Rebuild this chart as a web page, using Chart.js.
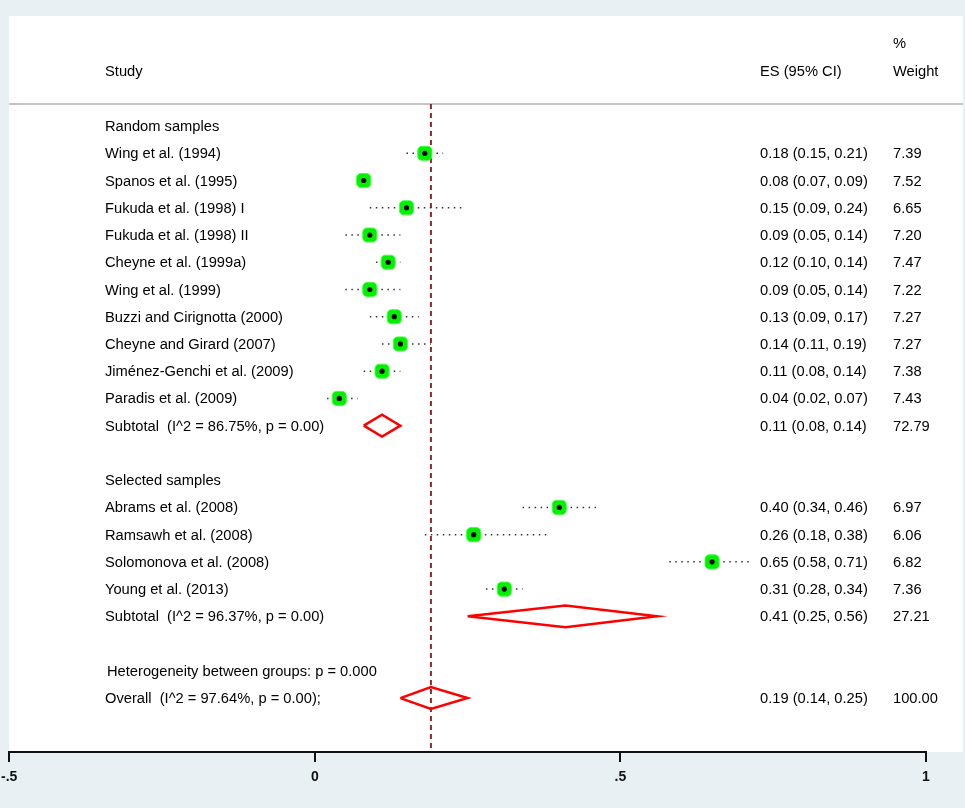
<!DOCTYPE html>
<html>
<head>
<meta charset="utf-8">
<script src="https://cdn.jsdelivr.net/npm/chart.js@4.4.1/dist/chart.umd.min.js"></script>
<style>
  html, body { margin: 0; padding: 0; background: #e9f0f3; }
  #wrap { width: 965px; height: 808px; }
</style>
</head>
<body>
<div id="wrap"><canvas id="forest" width="965" height="808"></canvas></div>
<script>
// study level data
const studies = ["Wing et al. (1994)", "Spanos et al. (1995)", "Fukuda et al. (1998) I",
  "Fukuda et al. (1998) II", "Cheyne et al. (1999a)", "Wing et al. (1999)",
  "Buzzi and Cirignotta (2000)", "Cheyne and Girard (2007)", "Jiménez-Genchi et al. (2009)",
  "Paradis et al. (2009)", "Abrams et al. (2008)", "Ramsawh et al. (2008)",
  "Solomonova et al. (2008)", "Young et al. (2013)"];
const studyRows = [1, 2, 3, 4, 5, 6, 7, 8, 9, 10, 14, 15, 16, 17];
const es = [0.18, 0.08, 0.15, 0.09, 0.12, 0.09, 0.13, 0.14, 0.11, 0.04, 0.40, 0.26, 0.65, 0.31];
const lo = [0.15, 0.07, 0.09, 0.05, 0.10, 0.05, 0.09, 0.11, 0.08, 0.02, 0.34, 0.18, 0.58, 0.28];
const hi = [0.21, 0.09, 0.24, 0.14, 0.14, 0.14, 0.17, 0.19, 0.14, 0.07, 0.46, 0.38, 0.71, 0.34];
const weights = [7.39, 7.52, 6.65, 7.20, 7.47, 7.22, 7.27, 7.27, 7.38, 7.43, 6.97, 6.06, 6.82, 7.36];

// groups
const groupNames = ["Random samples", "Selected samples"];
const groupRows = [0, 13];

// subtotals + overall
const poolLabels = ["Subtotal  (I^2 = 86.75%, p = 0.00)", "Subtotal  (I^2 = 96.37%, p = 0.00)",
  "Overall  (I^2 = 97.64%, p = 0.00);"];
const poolRows = [11, 18, 21];
const poolEs = [0.11, 0.41, 0.19];
const poolLo = [0.08, 0.25, 0.14];
const poolHi = [0.14, 0.56, 0.25];
const poolWeights = [72.79, 27.21, 100.00];

const hetText = "Heterogeneity between groups: p = 0.000";
const hetRow = 20;

const xTicks = [-0.5, 0, 0.5, 1];

const FONT = '14.7px "Liberation Sans", Arial, sans-serif';
const fmt = v => v.toFixed(2);
const tickFmt = v => v === 0 ? '0' : (v < 0 ? '-' : '') + String(Math.abs(v)).replace(/^0/, '');

// build datasets
const datasets = [];

// line through overall estimate
datasets.push({
  data: [{x: poolEs[2], y: -0.81}, {x: poolEs[2], y: 23}],
  showLine: true, borderColor: '#8b2c2c', borderWidth: 2, borderDash: [5, 4],
  pointRadius: 0, order: 10
});

studies.forEach((s, i) => {
  datasets.push({
    data: [{x: lo[i], y: studyRows[i]}, {x: hi[i], y: studyRows[i]}],
    showLine: true, borderColor: '#333', borderWidth: 1.5, borderDash: [1.5, 4.5],
    pointRadius: 0, order: 6
  });
});

const dh = 0.4;
poolEs.forEach((e, i) => {
  const r = poolRows[i];
  datasets.push({
    data: [{x: poolLo[i], y: r}, {x: e, y: r - dh}, {x: poolHi[i], y: r},
           {x: e, y: r + dh}, {x: poolLo[i], y: r}],
    showLine: true, borderColor: '#ff0000', borderWidth: 2.5, tension: 0,
    pointRadius: 0, order: 4
  });
});

datasets.push({
  data: es.map((e, i) => ({x: e, y: studyRows[i]})),
  pointStyle: 'rectRounded', pointRadius: 8.2, backgroundColor: '#00f000',
  borderColor: '#44ff44', borderWidth: 1, order: 2
});
datasets.push({
  data: es.map((e, i) => ({x: e, y: studyRows[i]})),
  pointStyle: 'circle', pointRadius: 2.6, backgroundColor: '#000', borderWidth: 0, order: 1
});

// panel + header + text
const forestText = {
  id: 'forestText',
  beforeDraw(chart) {
    const ctx = chart.ctx;
    ctx.save();
    ctx.fillStyle = '#e9f0f3';
    ctx.fillRect(0, 0, chart.width, chart.height);
    ctx.fillStyle = '#ffffff';
    ctx.fillRect(9, 16, 954, chart.chartArea.bottom - 16);
    const yHead = chart.scales.y.getPixelForValue(-0.81);
    ctx.strokeStyle = '#c4c4c4';
    ctx.lineWidth = 2;
    ctx.beginPath();
    ctx.moveTo(9, yHead);
    ctx.lineTo(963, yHead);
    ctx.stroke();
    ctx.restore();
  },
  afterDraw(chart) {
    const ctx = chart.ctx;
    const y = chart.scales.y;
    ctx.save();
    ctx.font = FONT;
    ctx.fillStyle = '#000';
    ctx.textBaseline = 'middle';
    const colStudy = 105, colEs = 760, colW = 893, dy = 1;
    const put = (t, x, v) => ctx.fillText(t, x, y.getPixelForValue(v) + dy);
    put('Study', colStudy, -2.02);
    put('ES (95% CI)', colEs, -2.02);
    put('%', colW, -3.05);
    put('Weight', colW, -2.02);
    groupNames.forEach((g, i) => put(g, colStudy, groupRows[i]));
    studies.forEach((s, i) => {
      put(s, colStudy, studyRows[i]);
      put(fmt(es[i]) + ' (' + fmt(lo[i]) + ', ' + fmt(hi[i]) + ')', colEs, studyRows[i]);
      put(fmt(weights[i]), colW, studyRows[i]);
    });
    poolLabels.forEach((p, i) => {
      put(p, colStudy, poolRows[i]);
      put(fmt(poolEs[i]) + ' (' + fmt(poolLo[i]) + ', ' + fmt(poolHi[i]) + ')', colEs, poolRows[i]);
      put(fmt(poolWeights[i]), colW, poolRows[i]);
    });
    put(hetText, colStudy + 2, hetRow);
    ctx.restore();
  }
};

new Chart(document.getElementById('forest'), {
  type: 'scatter',
  data: { datasets },
  options: {
    responsive: false,
    animation: false,
    events: [],
    layout: { padding: { left: 8, right: 39, top: 16, bottom: 26 } },
    plugins: { legend: { display: false }, tooltip: { enabled: false } },
    scales: {
      x: {
        type: 'linear', min: -0.5, max: 1,
        afterBuildTicks: axis => { axis.ticks = xTicks.map(v => ({value: v})); },
        afterFit: axis => { axis.paddingLeft = 0; axis.paddingRight = 0; axis.height = 30; },
        border: { display: true, color: '#111', width: 2 },
        grid: { drawOnChartArea: false, drawTicks: true, tickLength: 10, color: '#111', lineWidth: 2 },
        ticks: {
          padding: 7, color: '#111', maxRotation: 0,
          font: { family: '"Liberation Sans", Arial, sans-serif', size: 14, weight: 'bold' },
          callback: v => tickFmt(v)
        }
      },
      y: { type: 'linear', display: false, reverse: true, min: -4.04, max: 22.98 }
    }
  },
  plugins: [forestText]
});
</script>
</body>
</html>
